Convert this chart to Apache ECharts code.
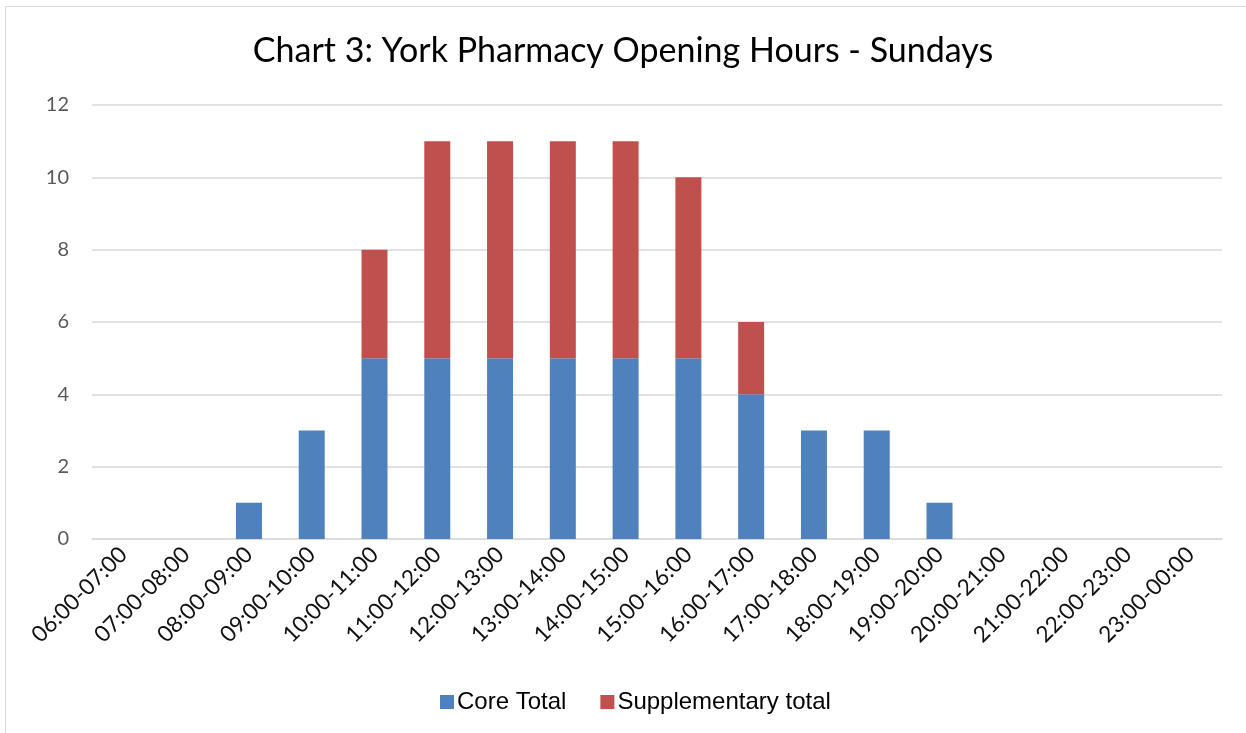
<!DOCTYPE html>
<html><head><meta charset="utf-8">
<script src="https://cdn.jsdelivr.net/npm/echarts@6/dist/echarts.min.js"></script>
<style>
html,body{margin:0;padding:0;background:#fff;width:1246px;height:733px;overflow:hidden;}
#frame{position:absolute;left:5px;top:6px;width:1260px;height:760px;border:1px solid #d9d9d9;}
#c{position:absolute;left:0;top:0;width:1246px;height:733px;}
</style></head>
<body>
<div id="frame"></div>
<div id="c"></div>
<script>
const categories = ["06:00-07:00","07:00-08:00","08:00-09:00","09:00-10:00","10:00-11:00","11:00-12:00","12:00-13:00","13:00-14:00","14:00-15:00","15:00-16:00","16:00-17:00","17:00-18:00","18:00-19:00","19:00-20:00","20:00-21:00","21:00-22:00","22:00-23:00","23:00-00:00"];
const coreTotal = [0,0,1,3,5,5,5,5,5,5,4,3,3,1,0,0,0,0];
const supplementaryTotal = [0,0,0,0,3,6,6,6,6,5,2,0,0,0,0,0,0,0];
const yTicks = [0,2,4,6,8,10,12];

const chart = echarts.init(document.getElementById('c'), null, {renderer:'canvas'});
chart.setOption({
  animation:false,
  title:{text:'Chart 3: York Pharmacy Opening Hours - Sundays', left:'center', top:29,
    textStyle:{fontFamily:'Lato', fontWeight:'normal', fontSize:34, color:'#000'}},
  legend:{bottom:14, left:435, itemWidth:14, itemHeight:14, itemGap:34,
    icon:'rect',
    textStyle:{fontFamily:'Liberation Sans', fontSize:24, color:'#000', padding:[0,0,0,-2]},
    data:['Core Total','Supplementary total']},
  grid:{left:92, right:24, top:105, bottom:194, containLabel:false},
  xAxis:{type:'category', data:categories,
    axisLine:{lineStyle:{color:'#d9d9d9', width:1.5}},
    axisTick:{show:false},
    axisLabel:{rotate:45, interval:0, fontFamily:'Lato', fontSize:22.5, color:'#111', margin:12}},
  yAxis:{type:'value', min:yTicks[0], max:yTicks[yTicks.length-1], interval:2,
    axisLine:{show:false}, axisTick:{show:false},
    splitLine:{lineStyle:{color:'#d9d9d9', width:1.5}},
    axisLabel:{fontFamily:'Lato', fontSize:20, color:'#595959', margin:23}},
  series:[
    {name:'Core Total', type:'bar', stack:'a', data:coreTotal, barWidth:26,
      itemStyle:{color:'#4f81bd'}},
    {name:'Supplementary total', type:'bar', stack:'a', data:supplementaryTotal, barWidth:26,
      itemStyle:{color:'#c0504d'}}
  ]
});
</script>
</body></html>
